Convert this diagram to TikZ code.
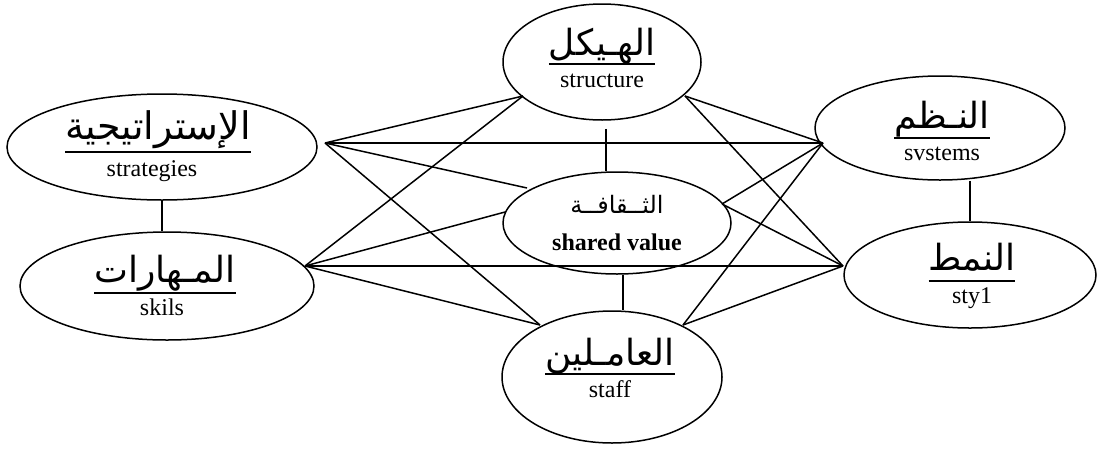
\documentclass[tikz,border=0pt]{standalone}
\usepackage{fontspec}
\setmainfont{Liberation Serif}
\newfontfamily\arabicfont[Script=Arabic]{DejaVu Sans}
\TeXXeTstate=1
\usetikzlibrary{shapes.geometric}
% Arabic word, right to left
\newcommand{\arword}[1]{{\arabicfont\beginR #1\endR}}
% Arabic word with a rule set #2 below its baseline
\newcommand{\arline}[2]{\setbox0=\hbox{\arword{#1}}\dp0=0pt\vtop{\box0\kern#2\hrule height .8pt}}
\begin{document}
\begin{tikzpicture}[x=0.5pt,y=-0.5pt,line width=0.75pt,
  unit/.style={draw,ellipse,inner sep=0pt},
  artext/.style={font=\fontsize{18}{20}\selectfont,anchor=base,inner sep=0pt},
  smallar/.style={font=\fontsize{12}{14}\selectfont,anchor=base,inner sep=0pt},
  entext/.style={font=\fontsize{12}{14}\selectfont,anchor=base,inner sep=0pt}]
\useasboundingbox (0,0) rectangle (1097,450);

% the seven elements
\node[unit,minimum width=155pt,minimum height=53pt] (strat)   at (162,147) {};
\node[unit,minimum width=147pt,minimum height=54pt] (skills)  at (167,286) {};
\node[unit,minimum width=99pt, minimum height=58pt] (struct)  at (602,62)  {};
\node[unit,minimum width=114pt,minimum height=51pt] (shared)  at (617,223) {};
\node[unit,minimum width=110pt,minimum height=66pt] (staff)   at (612,377) {};
\node[unit,minimum width=125pt,minimum height=52pt] (systems) at (940,128) {};
\node[unit,minimum width=126pt,minimum height=53pt] (style)   at (970,275) {};

% labels
\node[artext,font=\fontsize{19}{21}\selectfont] (strat-ar) at (158,139) {\arline{الإستراتيجية}{6pt}};
\node[entext] (strat-en)   at (152,176) {strategies};
\node[artext] (skills-ar)  at (165,282) {\arline{المـهارات}{5pt}};
\node[entext] (skills-en)  at (162,315) {skils};
\node[artext] (struct-ar)  at (602,55)  {\arline{الهـيكل}{4pt}};
\node[entext] (struct-en)  at (602,87)  {structure};
\node[smallar] (shared-ar) at (617,213) {\arword{الثــقافــة}};
\node[entext] (shared-en)  at (617,250) {\bfseries shared value};
\node[artext] (staff-ar)   at (610,365) {\arline{العامـلين}{4pt}};
\node[entext] (staff-en)   at (610,397) {staff};
\node[artext] (systems-ar) at (942,128) {\arline{النـظم}{4.5pt}};
\node[entext] (systems-en) at (942,160) {svstems};
\node[artext] (style-ar)   at (972,270) {\arline{النمط}{5pt}};
\node[entext] (style-en)   at (972,303) {sty1};

% meeting points of the links
\coordinate (sj)  at (325,143);
\coordinate (kj)  at (305,266);
\coordinate (yj)  at (823,143);
\coordinate (tj)  at (843,266);
\coordinate (hl)  at (523,96);
\coordinate (hr)  at (685,96);
\coordinate (fl)  at (540,325);
\coordinate (fr)  at (683,325);
\coordinate (cl1) at (527,188);
\coordinate (cl2) at (505,212);
\coordinate (cr)  at (722,204);

% links
\draw (sj) -- (hl);  \draw (sj) -- (yj);  \draw (sj) -- (cl1); \draw (sj) -- (fl);
\draw (kj) -- (hl);  \draw (kj) -- (cl2); \draw (kj) -- (tj);  \draw (kj) -- (fl);
\draw (hr) -- (yj);  \draw (hr) -- (tj);
\draw (yj) -- (cr);  \draw (yj) -- (fr);
\draw (tj) -- (cr);  \draw (tj) -- (fr);

% short vertical ties
\draw (strat.south) -- (strat.south |- skills.north);
\draw ([xshift=2pt,yshift=-4pt]struct.south) -- ([xshift=2pt]struct.south |- shared.north);
\draw ([xshift=3pt]shared.south) -- ([xshift=3pt]shared.south |- staff.north);
\draw (systems.south -| style.north) -- (style.north);
\end{tikzpicture}
\end{document}
